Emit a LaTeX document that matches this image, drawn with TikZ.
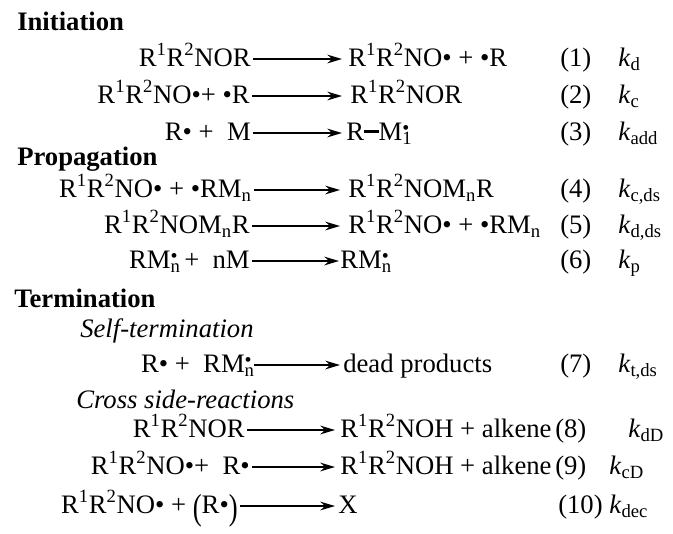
\documentclass[tikz,border=0pt]{standalone}
\usepackage{fontspec}
\setmainfont{Liberation Serif}
\usepackage{graphicx}
\usetikzlibrary{arrows.meta}

\newcommand{\nit}{R\textsuperscript{1}R\textsuperscript{2}}
\newcommand{\stk}[1]{\rlap{\textsubscript{#1}}\raisebox{0.2em}{\scalebox{0.75}{•}}}
\newcommand{\bigpar}[1]{\raisebox{-0.24em}{\scalebox{1}[1.36]{#1}}}
\newcommand{\bond}{\rule[0.28em]{0.55em}{0.1em}}

\tikzset{
  spec/.style={inner sep=0pt, font=\fontsize{20}{24}\selectfont},
  lhs/.style={spec, anchor=base east},
  rhs/.style={spec, anchor=base west},
  hd/.style={rhs, font=\fontsize{20}{24}\selectfont\bfseries},
  subhd/.style={rhs, font=\fontsize{20}{24}\selectfont\itshape},
  rxn/.style={line width=1.3pt, -{Stealth[length=11pt,width=6.5pt]}},
}

\begin{document}
\begin{tikzpicture}[x=0.75pt,y=-0.75pt] % ------ Alkoxyamine scheme ------
    \useasboundingbox (0,0) rectangle (673,533);
    % headings
    \node[hd] (ini) at (17,30) {Initiation};
    \node[hd] (pro) at (17,165) {Propagation};
    \node[hd] (ter) at (14,307) {Termination};
    \node[subhd] (self) at (80,337) {Self-termination};
    \node[subhd] (cross) at (76,408) {Cross side-reactions};
    % reactants
    \node[lhs] (r1) at (251,66) {\nit NOR};
    \node[lhs] (r2) at (250,103) {\nit NO•+ •R};
    \node[lhs] (r3) at (251,140) {R• +\ \ M};
    \node[lhs] (r4) at (252,197) {\nit NO• + •RM\textsubscript{n}};
    \node[lhs] (r5) at (250,233) {\nit NOM\textsubscript{n}R};
    \node[lhs] (r6) at (250,268) {RM\stk{n}\ +\ \ nM};
    \node[lhs] (r7) at (252,372) {R• +\ \ RM\stk{n}};
    \node[lhs] (r8) at (245,437) {\nit NOR};
    \node[lhs] (r9) at (250,474) {\nit NO•+\ \ R•};
    \node[lhs] (r10) at (238,513) {\nit NO• + \bigpar{(}R•\bigpar{)}};
    % products
    \node[rhs] (p1) at (348,66) {\nit NO• + •R};
    \node[rhs] (p2) at (350,103) {\nit NOR};
    \node[rhs] (p3) at (346,140) {R\bond M\stk{1}};
    \node[rhs] (p4) at (348,197) {\nit NOM\textsubscript{n}R};
    \node[rhs] (p5) at (348,233) {\nit NO• + •RM\textsubscript{n}};
    \node[rhs] (p6) at (340,268) {RM\stk{n}};
    \node[rhs] (p7) at (343,372) {dead products};
    \node[rhs] (p8) at (340,437) {\nit NOH + alkene};
    \node[rhs] (p9) at (340,474) {\nit NOH + alkene};
    \node[rhs] (p10) at (338,513) {X};
    % arrows
    \draw[rxn] ([shift={(2,-7)}]r1.base east) -- ([shift={(-6,-7)}]p1.base west);
    \draw[rxn] ([shift={(2,-7)}]r2.base east) -- ([shift={(-8,-7)}]p2.base west);
    \draw[rxn] ([shift={(2,-7)}]r3.base east) -- ([shift={(-4,-7)}]p3.base west);
    \draw[rxn] ([shift={(2,-7)}]r4.base east) -- ([shift={(-8,-7)}]p4.base west);
    \draw[rxn] ([shift={(2,-7)}]r5.base east) -- ([shift={(-8,-7)}]p5.base west);
    \draw[rxn] ([shift={(2,-7)}]r6.base east) -- ([shift={(-1,-7)}]p6.base west);
    \draw[rxn] ([shift={(2,-7)}]r7.base east) -- ([shift={(-3,-7)}]p7.base west);
    \draw[rxn] ([shift={(2,-7)}]r8.base east) -- ([shift={(-5,-7)}]p8.base west);
    \draw[rxn] ([shift={(2,-7)}]r9.base east) -- ([shift={(-5,-7)}]p9.base west);
    \draw[rxn] ([shift={(2,-7)}]r10.base east) -- ([shift={(-3,-7)}]p10.base west);
    % numbers and rate constants
    \node[rhs] (n1) at (560,66) {(1)};
    \node[rhs] (n2) at (560,103) {(2)};
    \node[rhs] (n3) at (560,140) {(3)};
    \node[rhs] (n4) at (560,197) {(4)};
    \node[rhs] (n5) at (560,233) {(5)};
    \node[rhs] (n6) at (560,268) {(6)};
    \node[rhs] (n7) at (560,372) {(7)};
    \node[rhs] (n8) at (555,437) {(8)};
    \node[rhs] (n9) at (555,474) {(9)};
    \node[rhs] (n10) at (558,513) {(10)};
    \node[rhs] (k1) at (618,66) {\textit{k}\textsubscript{d}};
    \node[rhs] (k2) at (618,103) {\textit{k}\textsubscript{c}};
    \node[rhs] (k3) at (618,140) {\textit{k}\textsubscript{add}};
    \node[rhs] (k4) at (618,197) {\textit{k}\textsubscript{c,ds}};
    \node[rhs] (k5) at (618,233) {\textit{k}\textsubscript{d,ds}};
    \node[rhs] (k6) at (618,268) {\textit{k}\textsubscript{p}};
    \node[rhs] (k7) at (618,372) {\textit{k}\textsubscript{t,ds}};
    \node[rhs] (k8) at (628,437) {\textit{k}\textsubscript{dD}};
    \node[rhs] (k9) at (609,474) {\textit{k}\textsubscript{cD}};
    \node[rhs] (k10) at (609,513) {\textit{k}\textsubscript{dec}};
\end{tikzpicture}
\end{document}
